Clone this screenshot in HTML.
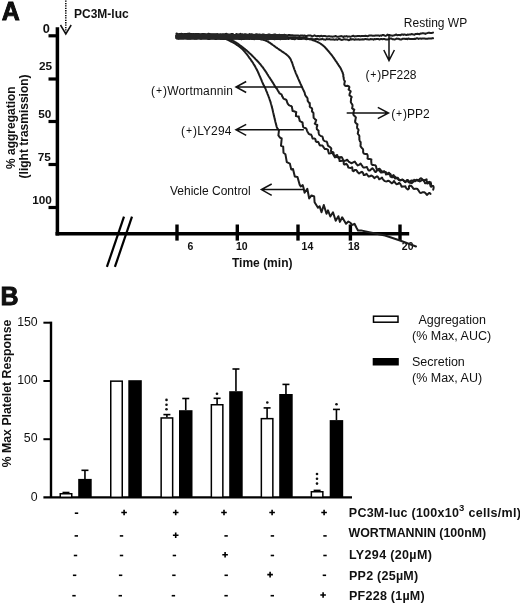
<!DOCTYPE html>
<html><head><meta charset="utf-8"><style>
html,body{margin:0;padding:0;background:#fff;overflow:hidden;}
svg{display:block;filter:grayscale(1);}
text{font-family:"Liberation Sans",sans-serif;fill:#111;}
.b{font-weight:bold;}
.cv path{fill:none;stroke:#1c1c1c;stroke-width:2.0;stroke-linejoin:round;stroke-linecap:round;}
.e{stroke:#000;stroke-width:1.6;}
.ax{stroke:#000;fill:none;}
.ar{stroke:#111;stroke-width:1.5;fill:none;}
</style></head><body>
<svg width="520" height="603" viewBox="0 0 520 603">
<rect width="520" height="603" fill="#fff"/>
<!-- Panel A -->
<text x="1.7" y="19.9" class="b" font-size="25" stroke="#000" stroke-width="0.8">A</text>
<text x="74" y="17.6" class="b" font-size="12">PC3M-luc</text>
<line x1="65.8" y1="0.5" x2="65.8" y2="33" stroke="#000" stroke-width="1.5" stroke-dasharray="1.3 1.1"/>
<path d="M60.5,25 L65.8,34 L71.2,25" class="ar"/>
<!-- y axis -->
<line x1="57.4" y1="27.3" x2="57.4" y2="235.6" class="ax" stroke-width="3.5"/>
<line x1="48.5" y1="35.8" x2="57" y2="35.8" class="ax" stroke-width="3.2"/>
<line x1="48.5" y1="79" x2="57" y2="79" class="ax" stroke-width="3.2"/>
<line x1="48.5" y1="121.5" x2="57" y2="121.5" class="ax" stroke-width="3.2"/>
<line x1="48.5" y1="164.5" x2="57" y2="164.5" class="ax" stroke-width="3.2"/>
<line x1="48.5" y1="207.5" x2="57" y2="207.5" class="ax" stroke-width="3.2"/>
<g class="b" font-size="11.8" text-anchor="end">
<text x="49.8" y="33.1" font-size="12.8">0</text>
<text x="52" y="70">25</text>
<text x="51.3" y="118">50</text>
<text x="50.9" y="161.2">75</text>
<text x="51.9" y="204">100</text>
</g>
<text transform="translate(15.2,127.7) rotate(-90)" class="b" font-size="12" text-anchor="middle">% aggregation</text>
<text transform="translate(28.4,126.4) rotate(-90)" class="b" font-size="12" text-anchor="middle">(light trasmission)</text>
<!-- x axis -->
<line x1="55.5" y1="233.7" x2="409.2" y2="233.7" class="ax" stroke-width="3.4"/>
<line x1="177" y1="224.5" x2="177" y2="240.6" class="ax" stroke-width="3.4"/>
<line x1="237.3" y1="224.5" x2="237.3" y2="240.6" class="ax" stroke-width="3.4"/>
<line x1="298" y1="224.5" x2="298" y2="240.6" class="ax" stroke-width="3.4"/>
<line x1="350.4" y1="224.5" x2="350.4" y2="240.6" class="ax" stroke-width="3.4"/>
<line x1="400" y1="224.5" x2="400" y2="240.6" class="ax" stroke-width="3.4"/>
<line x1="124" y1="216.7" x2="106.9" y2="266.9" stroke="#000" stroke-width="2.2"/>
<line x1="132" y1="216.7" x2="114.9" y2="266.9" stroke="#000" stroke-width="2.2"/>
<g class="b" font-size="10.5">
<text x="187.6" y="249.6">6</text>
<text x="236" y="249.6">10</text>
<text x="301.6" y="249.6">14</text>
<text x="348" y="249.6">18</text>
<text x="401.8" y="249.6">20</text>
</g>
<text x="232" y="267.4" class="b" font-size="12">Time (min)</text>
<!-- traces -->
<g class="cv">
<path d="M176.5,36.0 L177.5,36.0 L178.5,36.0 L179.5,36.1 L180.5,36.1 L181.5,36.1 L182.5,36.1 L183.5,36.1 L184.5,36.2 L185.5,36.2 L186.5,36.2 L187.5,36.2 L188.5,36.2 L189.5,36.3 L190.5,36.3 L191.5,36.3 L192.5,36.3 L193.5,36.3 L194.5,36.4 L195.5,36.4 L196.5,36.4 L197.5,36.4 L198.5,36.5 L199.5,36.5 L200.5,36.5 L201.5,36.5 L202.5,36.6 L203.5,36.6 L204.5,36.6 L205.5,36.6 L206.5,36.6 L207.5,36.7 L208.5,36.7 L209.5,36.7 L210.5,36.7 L211.5,36.8 L212.5,36.8 L213.5,36.9 L214.5,37.0 L215.5,37.0 L216.5,37.1 L217.5,37.2 L218.5,37.2 L219.5,37.3 L220.5,37.4 L221.4,37.6 L222.4,37.8 L223.4,38.1 L224.3,38.4 L225.3,38.8 L226.2,39.1 L227.1,39.5 L228.0,40.0 L228.9,40.4 L229.8,40.8 L230.7,41.3 L231.6,41.8 L232.5,42.2 L233.3,42.7 L234.2,43.2 L235.1,43.7 L235.9,44.2 L236.8,44.8 L237.6,45.3 L238.4,45.9 L239.2,46.5 L240.0,47.1 L240.8,47.8 L241.5,48.4 L242.3,49.1 L243.0,49.8 L243.7,50.5 L244.3,51.3 L245.0,52.0 L245.6,52.8 L246.3,53.6 L246.9,54.4 L247.5,55.2 L248.1,56.0 L248.7,56.8 L249.2,57.6 L249.8,58.4 L250.4,59.2 L251.0,60.0 L251.5,60.9 L252.1,61.7 L252.7,62.5 L253.2,63.3 L253.7,64.2 L254.3,65.1 L254.8,65.9 L255.3,66.8 L255.7,67.7 L256.2,68.5 L256.7,69.4 L257.1,70.3 L257.6,71.2 L258.0,72.1 L258.4,73.0 L258.8,73.9 L259.2,74.9 L259.6,75.8 L260.0,76.7 L260.4,77.6 L260.8,78.5 L261.2,79.5 L261.6,80.4 L261.9,81.3 L262.3,82.2 L262.7,83.1 L263.1,84.1 L263.6,85.0 L264.0,85.9 L264.5,86.7 L264.9,87.6 L265.4,88.5 L265.8,89.5 L266.1,90.4 L266.5,91.3 L266.9,92.2 L267.3,93.2 L267.6,94.1 L268.0,95.0 L268.4,96.0 L268.7,96.9 L269.1,97.8 L269.4,98.8 L269.7,99.7 L270.0,100.7 L270.4,101.6 L270.7,102.6 L270.9,103.5 L271.2,104.5 L271.5,105.4 L271.7,106.4 L272.0,107.4 L272.2,108.4 L272.5,109.3 L272.7,110.3 L272.9,111.3 L273.1,112.2 L273.4,113.2 L273.6,114.2 L273.8,115.2 L274.0,116.1 L274.3,117.1 L274.5,118.1 L274.7,119.1 L275.0,120.0 L275.2,121.0 L275.4,122.0 L275.7,123.0 L275.9,123.9 L276.2,124.9 L276.4,125.9 L276.7,126.8 L277.1,127.8 L277.5,128.6 L278.1,129.4 L279.0,130.0 L279.0,130.0 L278.4,135.4 L280.0,137.6 L281.7,138.5 L281.0,145.7 L283.2,146.6 L283.5,152.8 L285.4,154.2 L286.8,162.2 L289.9,163.6 L291.2,169.4 L293.0,169.0 L294.8,176.6 L297.5,177.0 L299.6,184.6 L300.8,186.5 L302.7,185.0 L303.5,187.7 L304.6,192.7 L307.3,188.8 L309.2,198.5 L311.5,195.4 L314.2,196.5 L314.6,202.3 L318.0,207.7 L319.6,206.2 L321.5,212.3 L323.8,205.0 L326.5,213.8 L328.0,210.4 L330.3,216.5 L333.0,212.3 L335.7,220.8 L338.4,216.2 L339.9,221.9 L342.2,217.3 L346.0,223.8 L348.4,221.5 L350.7,223.0 L351.8,225.0 L354.5,223.8 L356.5,227.7 L358.0,230.4 L361.0,230.4 L368.0,232.0 L385.0,235.5 L400.0,240.5 L416.0,246.5" />
<path d="M176.5,37.5 L177.5,37.5 L178.5,37.5 L179.5,37.5 L180.5,37.6 L181.5,37.6 L182.5,37.6 L183.5,37.6 L184.5,37.6 L185.5,37.6 L186.5,37.7 L187.5,37.7 L188.5,37.7 L189.5,37.7 L190.5,37.7 L191.5,37.7 L192.5,37.7 L193.5,37.8 L194.5,37.8 L195.5,37.8 L196.5,37.8 L197.5,37.8 L198.5,37.9 L199.5,37.9 L200.5,37.9 L201.5,37.9 L202.5,37.9 L203.5,38.0 L204.5,38.0 L205.5,38.0 L206.5,38.0 L207.5,38.1 L208.5,38.1 L209.5,38.1 L210.5,38.2 L211.5,38.2 L212.5,38.3 L213.5,38.3 L214.5,38.3 L215.5,38.4 L216.5,38.4 L217.5,38.5 L218.5,38.6 L219.5,38.6 L220.5,38.7 L221.5,38.8 L222.5,38.8 L223.5,38.9 L224.5,38.9 L225.5,38.8 L226.5,38.8 L227.5,38.9 L228.5,39.0 L229.4,39.3 L230.4,39.6 L231.3,39.9 L232.2,40.4 L233.1,40.9 L234.0,41.3 L234.8,41.9 L235.7,42.4 L236.5,42.9 L237.4,43.4 L238.2,44.0 L239.0,44.6 L239.8,45.2 L240.6,45.8 L241.4,46.4 L242.2,47.0 L243.0,47.6 L243.8,48.2 L244.6,48.8 L245.3,49.5 L246.1,50.1 L246.9,50.8 L247.6,51.4 L248.4,52.1 L249.1,52.8 L249.8,53.4 L250.6,54.1 L251.3,54.8 L252.0,55.5 L252.7,56.2 L253.4,56.9 L254.1,57.6 L254.8,58.3 L255.5,59.1 L256.2,59.8 L256.9,60.5 L257.6,61.2 L258.3,62.0 L258.9,62.7 L259.6,63.5 L260.3,64.2 L260.9,65.0 L261.5,65.8 L262.1,66.6 L262.8,67.3 L263.3,68.2 L263.9,69.0 L264.5,69.8 L265.1,70.6 L265.6,71.4 L266.2,72.3 L266.7,73.1 L267.2,74.0 L267.8,74.8 L268.3,75.7 L268.8,76.5 L269.4,77.3 L269.9,78.2 L270.5,79.0 L271.0,79.9 L271.6,80.7 L272.1,81.5 L272.6,82.4 L273.2,83.2 L273.7,84.1 L274.2,84.9 L274.7,85.8 L275.2,86.7 L275.8,87.5 L276.4,88.3 L277.1,89.0 L277.5,89.9 L278.0,90.8 L278.6,91.6 L279.0,92.5 L279.6,93.4 L280.5,93.9 L281.5,94.4 L281.9,95.4 L282.2,96.4 L282.8,97.2 L283.2,98.2 L283.9,98.9 L285.0,99.3 L286.1,99.7 L286.7,100.5 L286.9,101.7 L287.3,102.6 L287.7,103.6 L288.3,104.4 L288.9,105.1 L289.9,105.6 L291.1,106.0 L291.9,106.7 L292.0,107.8 L292.3,108.9 L292.4,110.0 L292.6,111.1 L294.0,111.3 L295.2,111.7 L296.3,112.1 L296.0,113.6 L296.0,114.8 L295.9,116.1 L297.2,116.4 L298.8,116.5 L298.8,117.7 L299.2,118.6 L299.5,119.6 L299.6,120.7 L300.5,121.4 L301.5,122.0 L302.5,122.5 L302.7,123.5 L302.7,124.7 L303.0,125.7 L303.1,126.9 L303.8,127.6 L305.1,128.0 L306.1,128.4 L306.6,129.3 L306.9,130.3 L307.3,131.3 L307.7,132.2 L308.3,133.0 L308.8,133.9 L309.8,134.4 L311.0,134.6 L311.6,135.5 L312.0,136.5 L312.3,137.6 L312.7,138.6 L314.2,138.5 L315.2,138.9 L315.6,139.9 L315.7,141.2 L316.4,141.9 L317.9,141.8 L318.6,142.5 L319.0,143.5 L319.4,144.6 L320.0,145.5 L321.2,145.6 L322.5,145.6 L323.1,146.5 L323.6,147.4 L324.2,148.2 L324.9,149.0 L326.1,149.1 L327.2,149.3 L328.1,149.8 L328.2,151.2 L328.6,152.4 L328.9,153.6 L330.5,153.2 L332.1,152.7 L332.9,153.4 L333.4,154.3 L333.9,155.3 L334.4,156.4 L335.0,157.4 L336.4,157.0 L337.7,156.9 L339.0,156.9 L339.3,158.2 L339.4,159.7 L339.6,161.1 L340.8,161.1 L342.5,160.6 L343.7,160.7 L343.7,162.3 L343.7,163.8 L344.4,164.6 L346.4,163.8 L347.0,164.6 L347.6,165.4 L348.0,166.4 L348.3,167.6 L349.5,167.8 L350.7,167.9 L352.2,167.3 L352.4,168.8 L352.6,170.6 L353.5,171.2 L355.1,169.9 L356.1,169.9 L356.9,170.8 L357.5,172.0 L358.3,172.8 L359.1,173.4 L360.5,172.5 L361.9,171.8 L362.7,172.5 L363.3,173.6 L363.8,175.1 L364.9,175.0 L366.5,173.8 L367.2,174.7 L367.9,175.7 L368.7,176.6 L369.8,176.3 L371.0,175.6 L371.9,175.8 L372.8,176.4 L373.7,177.4 L374.6,178.1 L375.8,177.0 L377.0,176.3 L377.9,176.9 L378.6,178.1 L379.2,179.3 L380.5,178.7 L382.0,177.6 L382.6,178.7 L383.3,179.7 L384.0,180.5 L384.9,181.1 L385.9,181.4 L387.0,181.2 L388.2,180.8 L389.1,181.0 L390.0,181.7 L390.8,182.4 L391.7,183.3 L392.8,182.6 L394.1,181.0 L394.9,182.3 L395.7,183.3 L396.4,184.3 L397.6,184.1 L399.1,182.9 L400.0,183.5 L400.6,184.6 L401.2,185.6 L401.6,186.8 L403.0,186.5 L404.2,186.4 L405.4,186.2 L405.8,187.5 L406.5,188.5 L407.8,189.4 L409.0,188.4 L408.9,186.8 L409.6,185.5 L411.0,185.9 L411.9,186.6 L412.6,187.4 L413.2,188.4 L414.0,189.0 L415.3,188.8 L416.5,188.8 L417.5,189.0 L418.1,189.9 L418.7,190.8 L419.3,191.8 L420.0,192.8 L421.1,192.9 L422.4,192.3 L423.5,192.2 L424.4,192.3 L425.3,193.0 L426.1,193.9 L426.9,195.0 L428.2,193.8 L429.4,192.9 L430.3,193.5 L430.5,193.9" />
<path d="M176.5,35.0 L177.5,35.0 L178.5,35.0 L179.5,35.0 L180.5,35.1 L181.5,35.1 L182.5,35.1 L183.5,35.1 L184.5,35.1 L185.5,35.1 L186.5,35.2 L187.5,35.2 L188.5,35.2 L189.5,35.2 L190.5,35.2 L191.5,35.2 L192.5,35.2 L193.5,35.3 L194.5,35.3 L195.5,35.3 L196.5,35.3 L197.5,35.3 L198.5,35.3 L199.5,35.3 L200.5,35.4 L201.5,35.4 L202.5,35.4 L203.5,35.4 L204.5,35.4 L205.5,35.4 L206.5,35.5 L207.5,35.5 L208.5,35.5 L209.5,35.5 L210.5,35.5 L211.5,35.5 L212.5,35.6 L213.5,35.6 L214.5,35.6 L215.5,35.6 L216.5,35.6 L217.5,35.7 L218.5,35.7 L219.5,35.7 L220.5,35.7 L221.5,35.8 L222.5,35.8 L223.5,35.8 L224.5,35.8 L225.5,35.9 L226.5,35.9 L227.5,35.9 L228.5,36.0 L229.5,36.0 L230.5,36.0 L231.5,36.1 L232.5,36.1 L233.5,36.2 L234.5,36.2 L235.5,36.2 L236.5,36.3 L237.5,36.4 L238.5,36.4 L239.5,36.5 L240.5,36.5 L241.5,36.6 L242.5,36.7 L243.5,36.8 L244.5,36.8 L245.5,36.9 L246.5,37.0 L247.5,37.1 L248.4,37.2 L249.4,37.3 L250.4,37.4 L251.4,37.6 L252.4,37.7 L253.4,37.8 L254.4,37.9 L255.4,38.1 L256.4,38.2 L257.4,38.4 L258.4,38.5 L259.3,38.7 L260.3,38.9 L261.3,39.2 L262.2,39.4 L263.2,39.8 L264.1,40.1 L265.1,40.4 L266.0,40.7 L267.0,41.1 L267.9,41.6 L268.7,42.1 L269.5,42.7 L270.3,43.2 L271.2,43.8 L272.0,44.4 L272.8,45.0 L273.6,45.5 L274.4,46.1 L275.2,46.7 L276.0,47.3 L276.9,47.9 L277.7,48.5 L278.5,49.0 L279.3,49.6 L280.1,50.2 L281.0,50.7 L281.8,51.3 L282.6,51.8 L283.5,52.4 L284.3,53.0 L285.1,53.5 L285.9,54.1 L286.7,54.8 L287.5,55.4 L288.2,56.1 L288.9,56.8 L289.5,57.6 L290.1,58.4 L290.6,59.2 L291.0,60.1 L291.4,61.1 L291.8,62.0 L292.2,62.9 L292.5,63.9 L292.8,64.8 L293.1,65.8 L293.4,66.7 L293.8,67.7 L294.1,68.6 L294.4,69.5 L294.8,70.5 L295.2,71.4 L295.5,72.3 L295.9,73.3 L296.3,74.2 L296.7,75.1 L297.1,76.0 L297.5,76.9 L297.9,77.8 L298.3,78.8 L298.7,79.7 L299.1,80.6 L299.5,81.5 L299.9,82.4 L300.3,83.3 L300.7,84.2 L301.2,85.2 L301.6,86.1 L302.0,87.0 L302.4,87.9 L302.8,88.8 L303.2,89.7 L303.7,90.6 L304.1,91.5 L304.6,92.4 L304.8,93.4 L305.0,94.4 L305.3,95.3 L305.9,96.2 L306.6,97.0 L307.3,97.8 L307.6,98.7 L307.6,99.8 L307.7,100.9 L308.3,101.7 L308.8,102.6 L309.8,103.2 L309.7,104.3 L309.9,105.3 L309.7,106.5 L310.3,107.3 L311.5,107.9 L312.1,108.8 L312.2,109.8 L311.9,111.0 L312.3,111.9 L313.3,112.6 L313.5,113.6 L313.5,114.6 L313.5,115.7 L313.6,116.7 L313.6,117.7 L314.5,118.5 L315.1,119.4 L316.2,120.1 L315.8,121.3 L315.5,122.4 L314.8,123.6 L315.9,124.3 L317.3,125.0 L317.2,126.1 L316.7,127.2 L316.8,128.3 L316.9,129.3 L317.8,130.1 L318.6,130.8 L318.5,131.9 L318.7,132.9 L318.9,134.0 L319.3,135.0 L320.2,135.5 L321.1,136.1 L322.3,136.4 L322.7,137.4 L323.0,138.5 L323.2,139.6 L323.8,140.4 L324.5,141.1 L325.7,141.4 L326.8,141.8 L327.2,142.8 L327.5,143.8 L327.7,144.9 L328.1,145.9 L329.0,146.4 L329.9,147.0 L330.7,147.7 L331.3,148.5 L331.2,149.8 L330.9,151.0 L331.4,151.8 L333.2,152.2 L333.6,153.0 L333.3,154.3 L333.8,155.3 L334.7,155.8 L335.9,155.7 L337.2,155.0 L337.7,156.6 L338.3,157.9 L339.1,158.4 L340.8,157.0 L341.8,157.3 L342.4,158.3 L342.9,159.5 L343.5,160.6 L344.5,160.9 L345.8,160.5 L347.3,159.7 L347.9,160.7 L348.6,161.4 L349.5,162.2 L350.4,162.6 L351.3,163.2 L352.4,162.8 L353.6,162.2 L354.8,161.6 L355.5,162.7 L356.3,163.8 L357.0,164.7 L357.8,165.4 L359.1,164.8 L360.6,163.6 L361.3,164.6 L362.0,165.5 L362.6,166.6 L363.3,167.4 L364.4,167.4 L365.7,167.2 L366.9,166.9 L367.4,168.1 L368.0,169.4 L368.7,170.6 L369.8,170.6 L371.2,169.3 L372.4,168.2 L373.2,169.1 L374.1,170.1 L374.8,171.6 L375.7,172.0 L377.0,170.5 L378.3,169.2 L379.1,170.5 L379.9,171.3 L380.7,172.5 L381.7,172.4 L383.0,171.4 L384.1,171.1 L384.9,172.1 L385.6,173.3 L386.1,174.5 L387.5,173.7 L389.1,172.7 L389.8,173.7 L390.1,175.2 L390.5,176.7 L391.8,176.4 L393.6,175.1 L394.1,176.3 L394.6,177.5 L395.1,178.6 L396.4,178.3 L397.7,177.7 L398.4,178.6 L399.1,179.7 L399.9,180.6 L401.0,180.2 L402.3,179.6 L403.2,180.1 L404.0,181.0 L404.8,181.7 L406.0,181.0 L407.1,180.1 L407.9,181.4 L409.0,182.4 L410.1,182.9 L410.9,180.8 L411.8,180.5 L412.9,180.8 L413.9,181.0 L415.0,181.3 L415.8,180.2 L416.8,179.8 L417.9,180.2 L418.9,180.8 L419.8,181.4 L420.8,180.8 L422.0,180.0 L423.0,180.1 L423.9,180.9 L424.6,182.0 L425.0,183.3 L426.1,183.2 L427.7,182.4 L429.2,181.9 L429.5,183.3 L430.1,184.3 L430.4,185.5 L430.8,186.6 L431.5,186.7" />
<path d="M176.5,36.0 L177.5,36.0 L178.5,36.0 L179.5,36.0 L180.5,36.0 L181.5,36.0 L182.5,36.0 L183.5,36.0 L184.5,36.0 L185.5,36.1 L186.5,36.1 L187.5,36.1 L188.5,36.1 L189.5,36.1 L190.5,36.1 L191.5,36.1 L192.5,36.1 L193.5,36.1 L194.5,36.1 L195.5,36.1 L196.5,36.1 L197.5,36.1 L198.5,36.1 L199.5,36.1 L200.5,36.1 L201.5,36.1 L202.5,36.1 L203.5,36.2 L204.5,36.2 L205.5,36.2 L206.5,36.2 L207.5,36.2 L208.5,36.2 L209.5,36.2 L210.5,36.2 L211.5,36.2 L212.5,36.2 L213.5,36.2 L214.5,36.2 L215.5,36.2 L216.5,36.2 L217.5,36.2 L218.5,36.2 L219.5,36.2 L220.5,36.3 L221.5,36.3 L222.5,36.3 L223.5,36.3 L224.5,36.3 L225.5,36.3 L226.5,36.3 L227.5,36.3 L228.5,36.3 L229.5,36.3 L230.5,36.3 L231.5,36.3 L232.5,36.3 L233.5,36.3 L234.5,36.4 L235.5,36.4 L236.5,36.4 L237.5,36.4 L238.5,36.4 L239.5,36.4 L240.5,36.4 L241.5,36.4 L242.5,36.4 L243.5,36.4 L244.5,36.4 L245.5,36.5 L246.5,36.5 L247.5,36.5 L248.5,36.5 L249.5,36.5 L250.5,36.5 L251.5,36.5 L252.5,36.5 L253.5,36.5 L254.5,36.6 L255.5,36.6 L256.5,36.6 L257.5,36.6 L258.5,36.6 L259.5,36.6 L260.5,36.6 L261.5,36.7 L262.5,36.7 L263.5,36.7 L264.5,36.7 L265.5,36.7 L266.5,36.7 L267.5,36.7 L268.5,36.8 L269.5,36.8 L270.5,36.8 L271.5,36.8 L272.5,36.8 L273.5,36.8 L274.5,36.9 L275.5,36.9 L276.5,36.9 L277.5,36.9 L278.5,36.9 L279.5,37.0 L280.5,37.0 L281.5,37.0 L282.5,37.0 L283.5,37.0 L284.5,37.1 L285.5,37.1 L286.5,37.1 L287.5,37.1 L288.5,37.2 L289.5,37.2 L290.5,37.2 L291.5,37.2 L292.5,37.3 L293.5,37.3 L294.5,37.3 L295.5,37.3 L296.5,37.4 L297.5,37.4 L298.5,37.4 L299.5,37.5 L300.5,37.5 L301.5,37.6 L302.5,37.6 L303.5,37.6 L304.5,37.7 L305.5,37.8 L306.5,37.9 L307.4,38.4 L308.3,38.7 L309.2,39.0 L310.2,39.3 L311.1,39.6 L312.1,39.9 L313.0,40.3 L314.0,40.6 L314.9,40.9 L315.9,41.3 L316.8,41.7 L317.7,42.1 L318.6,42.5 L319.5,43.0 L320.3,43.5 L321.2,44.1 L322.0,44.7 L322.8,45.3 L323.5,45.9 L324.3,46.6 L325.0,47.3 L325.7,48.0 L326.3,48.8 L327.0,49.5 L327.7,50.3 L328.3,51.0 L329.0,51.8 L329.6,52.5 L330.2,53.3 L330.9,54.1 L331.5,54.9 L332.1,55.7 L332.7,56.5 L333.3,57.3 L333.9,58.1 L334.4,58.9 L335.0,59.8 L335.5,60.6 L336.1,61.4 L336.7,62.2 L337.2,63.1 L337.8,63.9 L338.3,64.7 L338.9,65.6 L339.4,66.4 L340.0,67.2 L340.5,68.1 L341.0,69.0 L341.4,69.9 L341.8,70.8 L342.2,71.7 L342.7,72.6 L342.8,73.6 L343.3,74.5 L343.3,75.5 L343.3,76.6 L343.7,77.5 L343.7,78.5 L343.9,79.5 L344.3,80.5 L344.9,81.4 L344.6,82.4 L344.4,83.5 L344.3,84.7 L345.1,85.7 L346.2,86.0 L347.5,85.8 L348.7,86.1 L349.4,87.1 L349.0,88.4 L348.6,89.5 L349.5,90.3 L350.7,91.2 L350.4,92.2 L349.8,93.3 L349.5,94.4 L349.5,95.4 L350.7,96.2 L351.7,97.1 L351.1,98.2 L351.0,99.2 L351.0,100.2 L350.8,101.3 L350.9,102.3 L351.4,103.2 L352.0,104.1 L352.5,105.0 L352.5,106.1 L352.4,107.1 L352.1,108.2 L353.0,109.0 L354.3,109.7 L353.8,110.9 L353.7,111.9 L353.6,113.0 L353.3,114.1 L353.6,115.0 L354.4,115.9 L355.4,116.7 L355.9,117.6 L355.6,118.7 L355.4,119.7 L355.3,120.8 L355.1,121.9 L355.6,122.8 L356.4,123.6 L357.5,124.4 L357.3,125.4 L357.1,126.5 L357.1,127.6 L357.3,128.5 L358.3,129.3 L358.5,130.3 L358.1,131.4 L358.0,132.5 L357.7,133.5 L358.3,134.4 L359.1,135.3 L359.4,136.3 L359.3,137.3 L359.4,138.3 L359.3,139.3 L359.6,140.3 L360.0,141.3 L360.7,142.1 L360.6,143.2 L360.7,144.2 L360.5,145.3 L360.6,146.3 L361.2,147.1 L361.8,148.0 L362.7,148.7 L363.1,149.6 L363.2,150.6 L363.1,151.9 L363.4,153.0 L364.2,153.7 L365.5,153.9 L367.0,153.9 L367.5,154.9 L367.7,156.0 L367.7,157.2 L367.5,158.5 L368.7,159.0 L370.2,159.1 L371.4,159.5 L371.2,160.8 L371.3,162.0 L371.4,163.2 L371.6,164.3 L372.5,164.9 L373.8,165.1 L375.2,165.2 L375.9,165.9 L376.2,167.0 L376.4,168.3 L376.8,169.4 L378.1,169.3 L379.7,168.8 L380.3,169.7 L381.0,170.4 L381.6,171.4 L382.4,172.2 L383.4,172.2 L384.7,171.9 L385.7,172.0 L386.4,172.8 L387.1,173.8 L388.0,174.3 L389.3,173.9 L390.4,173.9 L390.9,175.0 L391.5,176.2 L392.0,177.3 L393.2,177.2 L394.8,176.4 L395.5,177.1 L396.3,177.7 L397.1,178.3 L397.9,179.0 L398.7,179.9 L399.7,180.0 L400.8,179.9 L401.9,179.7 L402.9,179.7 L403.7,180.5 L404.6,181.3 L405.4,182.2 L406.7,181.2 L407.8,180.0 L408.7,180.9 L409.6,181.9 L410.6,182.3 L411.7,183.2 L412.7,182.3 L413.5,181.3 L414.1,179.8 L415.3,180.5 L416.4,180.5 L417.5,180.5 L418.5,180.7 L419.2,179.6 L420.1,178.7 L421.1,178.3 L422.1,179.1 L423.0,179.9 L423.7,180.6 L425.0,180.0 L426.6,179.4 L426.8,180.9 L427.1,182.3 L427.5,183.6 L429.2,182.7 L430.7,182.3 L430.9,183.8 L431.2,184.9 L431.6,185.7 L433.2,186.0 L433.6,186.9 L433.6,188.0 L433.3,189.2 L433.2,189.7" />
<path d="M176.5,33.5 L177.5,34.0 L178.5,34.3 L179.5,33.9 L180.5,33.9 L181.5,33.8 L182.5,34.1 L183.5,34.2 L184.5,34.0 L185.5,33.9 L186.5,34.4 L187.5,33.8 L188.5,33.8 L189.5,33.6 L190.5,34.0 L191.5,34.0 L192.5,34.5 L193.5,34.0 L194.5,34.4 L195.5,33.9 L196.5,34.0 L197.5,33.9 L198.5,33.9 L199.5,34.2 L200.5,34.6 L201.5,34.2 L202.5,33.9 L203.5,33.9 L204.5,34.1 L205.5,34.2 L206.5,34.4 L207.5,34.1 L208.5,33.7 L209.5,33.9 L210.5,34.3 L211.5,34.2 L212.5,34.3 L213.5,34.2 L214.5,34.2 L215.5,34.3 L216.5,34.3 L217.5,34.1 L218.5,34.4 L219.5,34.4 L220.5,34.2 L221.5,34.4 L222.5,34.3 L223.5,34.2 L224.5,34.6 L225.5,33.9 L226.5,33.8 L227.5,34.3 L228.5,34.5 L229.5,34.5 L230.5,34.6 L231.5,33.9 L232.5,33.9 L233.5,34.6 L234.5,34.9 L235.5,34.6 L236.5,34.0 L237.5,34.4 L238.5,34.5 L239.5,34.3 L240.5,33.8 L241.5,34.7 L242.5,34.2 L243.5,35.0 L244.5,34.2 L245.5,34.2 L246.5,34.6 L247.5,34.7 L248.5,34.7 L249.5,34.0 L250.5,34.7 L251.5,34.2 L252.5,34.4 L253.5,34.9 L254.5,35.0 L255.5,34.4 L256.5,34.2 L257.5,34.4 L258.5,34.7 L259.5,34.4 L260.5,34.8 L261.5,35.0 L262.5,34.4 L263.5,34.4 L264.5,34.7 L265.5,34.9 L266.5,35.2 L267.5,34.9 L268.5,34.5 L269.5,34.5 L270.5,34.9 L271.5,35.0 L272.5,34.9 L273.5,34.7 L274.5,34.5 L275.5,34.6 L276.5,35.3 L277.5,35.2 L278.5,35.0 L279.5,34.8 L280.5,35.1 L281.5,35.1 L282.5,35.6 L283.5,34.9 L284.5,34.8 L285.5,35.2 L286.5,35.4 L287.5,35.5 L288.5,34.9 L289.5,34.9 L290.5,35.2 L291.5,35.3 L292.5,35.2 L293.5,35.5 L294.5,35.6 L295.5,35.5 L296.5,35.5 L297.5,35.4 L298.5,35.6 L299.5,36.1 L300.5,35.4 L301.5,35.5 L302.5,35.5 L303.5,35.9 L304.5,35.5 L305.5,36.0 L306.5,36.1 L307.5,35.7 L308.5,35.4 L309.5,35.4 L310.5,35.5 L311.5,35.9 L312.5,36.5 L313.5,35.8 L314.5,35.3 L315.5,35.8 L316.5,36.3 L317.5,36.0 L318.5,35.9 L319.5,36.5 L320.5,36.0 L321.5,35.8 L322.5,36.3 L323.5,36.0 L324.5,36.1 L325.5,36.1 L326.5,36.5 L327.5,36.5 L328.5,36.3 L329.5,36.3 L330.5,36.4 L331.5,36.5 L332.5,36.7 L333.5,36.4 L334.5,36.4 L335.5,36.0 L336.5,36.5 L337.5,36.8 L338.5,36.8 L339.5,36.4 L340.5,36.2 L341.5,36.1 L342.5,36.4 L343.5,37.1 L344.5,36.2 L345.5,36.4 L346.5,36.1 L347.5,36.7 L348.5,36.4 L349.5,36.5 L350.5,36.7 L351.5,36.4 L352.5,36.0 L353.5,35.7 L354.5,36.5 L355.5,36.3 L356.5,36.2 L357.5,36.0 L358.5,36.1 L359.5,36.1 L360.5,36.2 L361.5,36.0 L362.5,35.9 L363.5,36.1 L364.5,36.0 L365.5,35.8 L366.5,35.9 L367.5,36.3 L368.5,35.8 L369.5,35.5 L370.5,35.5 L371.5,35.6 L372.5,35.8 L373.5,35.7 L374.5,35.8 L375.5,35.5 L376.5,35.4 L377.5,35.6 L378.5,35.4 L379.5,36.0 L380.5,35.4 L381.5,35.7 L382.4,34.9 L383.4,35.0 L384.5,35.5 L385.5,35.9 L386.5,35.6 L387.4,34.6 L388.4,35.0 L389.4,34.9 L390.5,35.5 L391.5,35.4 L392.5,35.7 L393.5,35.4 L394.5,35.3 L395.4,34.8 L396.4,34.6 L397.5,35.3 L398.4,34.9 L399.5,35.0 L400.5,35.3 L401.4,34.6 L402.4,34.5 L403.5,34.9 L404.4,34.4 L405.5,34.8 L406.5,35.1 L407.4,34.5 L408.4,34.7 L409.4,34.4 L410.4,34.5 L411.4,34.1 L412.4,34.3 L413.5,34.6 L414.5,34.7 L415.4,33.9 L416.4,33.9 L417.4,33.8 L418.4,34.0 L419.5,34.2 L420.4,33.6 L421.4,33.6 L422.4,33.3 L423.4,33.3 L424.4,33.4 L425.4,33.9 L426.4,33.4 L427.4,33.1 L428.4,32.8 L429.4,32.7 L430.4,33.1 L431.4,33.1 L432.4,32.8 L433.0,32.6" />
<path d="M176.5,38.2 L177.5,38.2 L178.5,38.8 L179.5,38.5 L180.5,38.5 L181.5,38.6 L182.5,38.5 L183.5,38.5 L184.5,38.1 L185.5,38.3 L186.5,38.6 L187.5,38.7 L188.5,38.8 L189.5,38.8 L190.5,38.7 L191.5,38.5 L192.5,38.5 L193.5,38.2 L194.5,38.8 L195.5,38.5 L196.5,38.8 L197.5,38.4 L198.5,38.3 L199.5,38.3 L200.5,38.7 L201.5,38.8 L202.5,38.4 L203.5,38.4 L204.5,38.3 L205.5,38.5 L206.5,38.4 L207.5,38.7 L208.5,39.0 L209.5,39.0 L210.5,38.5 L211.5,38.6 L212.5,38.5 L213.5,38.2 L214.5,38.5 L215.5,39.0 L216.5,38.9 L217.5,38.4 L218.5,38.5 L219.5,38.4 L220.5,38.8 L221.5,38.8 L222.5,38.9 L223.5,38.6 L224.5,38.2 L225.5,38.3 L226.5,39.0 L227.5,38.9 L228.5,38.6 L229.5,38.7 L230.5,38.9 L231.5,38.6 L232.5,39.2 L233.5,38.6 L234.5,38.6 L235.5,38.5 L236.5,38.6 L237.5,38.4 L238.5,38.8 L239.5,39.1 L240.5,38.8 L241.5,39.2 L242.5,38.9 L243.5,38.8 L244.5,38.9 L245.5,38.6 L246.5,38.7 L247.5,38.7 L248.5,38.8 L249.5,39.0 L250.5,38.3 L251.5,38.9 L252.5,38.9 L253.5,39.0 L254.5,39.2 L255.5,38.7 L256.5,38.7 L257.5,38.6 L258.5,38.8 L259.5,38.9 L260.5,39.2 L261.5,39.2 L262.5,38.9 L263.5,38.7 L264.5,38.4 L265.5,38.6 L266.5,38.9 L267.5,38.8 L268.5,39.4 L269.5,38.6 L270.5,38.8 L271.5,38.6 L272.5,38.7 L273.5,39.1 L274.5,39.2 L275.5,39.0 L276.5,39.0 L277.5,38.9 L278.5,38.8 L279.5,39.1 L280.5,39.2 L281.5,38.8 L282.5,38.3 L283.5,38.8 L284.5,38.8 L285.5,39.1 L286.5,38.8 L287.5,38.7 L288.5,39.0 L289.5,38.6 L290.5,38.6 L291.5,38.9 L292.5,38.9 L293.5,38.8 L294.5,39.2 L295.5,39.0 L296.5,38.4 L297.5,38.8 L298.5,39.0 L299.5,39.0 L300.5,38.8 L301.5,39.1 L302.5,38.8 L303.5,38.6 L304.5,38.8 L305.5,39.0 L306.5,39.3 L307.5,38.8 L308.5,39.1 L309.5,39.2 L310.5,38.8 L311.5,38.5 L312.5,39.2 L313.5,39.3 L314.5,39.4 L315.5,39.0 L316.5,39.0 L317.5,38.7 L318.5,39.4 L319.5,39.5 L320.5,39.3 L321.5,39.2 L322.5,38.8 L323.5,39.5 L324.5,39.6 L325.5,39.7 L326.5,39.0 L327.5,39.3 L328.5,39.2 L329.5,39.1 L330.5,39.6 L331.5,39.6 L332.5,39.5 L333.5,39.3 L334.5,39.8 L335.5,39.5 L336.5,39.3 L337.5,39.8 L338.5,39.0 L339.5,39.0 L340.5,39.5 L341.5,39.9 L342.5,39.8 L343.5,39.3 L344.5,39.3 L345.5,39.5 L346.5,39.4 L347.5,39.6 L348.5,40.2 L349.5,40.0 L350.5,39.0 L351.5,39.5 L352.5,39.2 L353.5,39.3 L354.5,39.8 L355.5,39.2 L356.5,39.5 L357.5,39.5 L358.5,39.2 L359.5,39.7 L360.5,39.5 L361.5,39.5 L362.5,39.2 L363.5,39.5 L364.5,39.2 L365.5,38.9 L366.5,39.3 L367.5,39.2 L368.5,39.6 L369.5,39.6 L370.5,39.0 L371.5,39.3 L372.5,39.2 L373.5,39.7 L374.5,39.0 L375.5,39.2 L376.5,39.0 L377.5,38.9 L378.5,39.1 L379.5,39.5 L380.5,39.1 L381.5,39.0 L382.5,39.2 L383.5,39.1 L384.5,39.0 L385.5,39.4 L386.5,39.4 L387.5,39.4 L388.5,39.3 L389.5,38.8 L390.5,38.6 L391.5,38.6 L392.5,39.3 L393.5,39.2 L394.5,39.4 L395.5,39.3 L396.5,38.6 L397.5,38.7 L398.5,38.7 L399.5,39.3 L400.5,39.5 L401.5,39.4 L402.5,38.8 L403.5,38.7 L404.5,38.7 L405.5,39.0 L406.5,38.7 L407.5,39.2 L408.5,38.4 L409.5,38.9 L410.5,39.0 L411.5,39.1 L412.5,38.9 L413.5,39.1 L414.5,38.7 L415.5,38.9 L416.5,38.3 L417.5,38.2 L418.5,38.9 L419.5,38.6 L420.5,38.5 L421.5,38.8 L422.5,38.4 L423.5,38.4 L424.5,38.5 L425.5,38.7 L426.5,38.7 L427.5,38.8 L428.5,38.6 L429.5,38.6 L430.5,38.4 L431.5,38.5 L432.5,38.1 L433.0,38.3" />
</g>
<path d="M178,36.6 L200,36.4 L230,36.8 L285,37" stroke="#262626" stroke-width="5.8" fill="none" stroke-linecap="round"/>
<!-- annotation arrows -->
<g class="ar">
<path d="M389,35.6 V60.4 M383.8,50 L389,60.6 L394.4,50"/>
<path d="M302.3,87 H236 M246.2,81.5 L236,87 L246.2,92.5"/>
<path d="M303.8,129.8 H236 M246.2,124.4 L236,129.8 L246.2,135.3"/>
<path d="M346.7,113 H388.5 M377.8,107.3 L388.5,113 L377.8,118.7"/>
<path d="M304.2,189.6 H261.4 M271.7,184 L261.4,189.6 L271.7,195.3"/>
</g>
<g font-size="12">
<text x="403.8" y="26.6">Resting WP</text>
<text x="365.4" y="78.6">(<tspan dx="0.8" dy="-1" font-size="10.5">+</tspan><tspan dx="0.8" dy="1">)PF228</tspan></text>
<text x="151" y="95" letter-spacing="0.15">(<tspan dx="0.8" dy="-1" font-size="10.5">+</tspan><tspan dx="0.8" dy="1">)Wortmannin</tspan></text>
<text x="181.1" y="134.5" letter-spacing="0.1">(<tspan dx="0.8" dy="-1" font-size="10.5">+</tspan><tspan dx="0.8" dy="1">)LY294</tspan></text>
<text x="391.3" y="118.3">(<tspan dx="0.8" dy="-1" font-size="10.5">+</tspan><tspan dx="0.8" dy="1">)PP2</tspan></text>
<text x="170" y="194.5">Vehicle Control</text>
</g>
<!-- Panel B -->
<text x="0.6" y="304.5" class="b" font-size="25" stroke="#000" stroke-width="0.8">B</text>
<line x1="51" y1="321.6" x2="51" y2="498" class="ax" stroke-width="2.4"/>
<line x1="43.4" y1="322.7" x2="50" y2="322.7" class="ax" stroke-width="2"/>
<line x1="43.4" y1="381" x2="50" y2="381" class="ax" stroke-width="2"/>
<line x1="43.4" y1="439.2" x2="50" y2="439.2" class="ax" stroke-width="2"/>
<line x1="43.4" y1="497.3" x2="352" y2="497.3" class="ax" stroke-width="2.2"/>
<g font-size="12.3" text-anchor="end">
<text x="37.7" y="325.8">150</text>
<text x="37.7" y="384">100</text>
<text x="37.5" y="442.4">50</text>
<text x="37.5" y="500.6">0</text>
</g>
<text transform="translate(11,393.5) rotate(-90)" class="b" font-size="12.3" text-anchor="middle">% Max Platelet Response</text>
<line x1="66.0" y1="493" x2="66.0" y2="492.5" class="e"/>
<line x1="62.5" y1="492.5" x2="69.5" y2="492.5" class="e"/>
<rect x="60.25" y="493.75" width="11.5" height="3.5500000000000114" fill="#fff" stroke="#000" stroke-width="1.5"/>
<line x1="84.95" y1="478.9" x2="84.95" y2="470.3" class="e"/>
<line x1="81.45" y1="470.3" x2="88.45" y2="470.3" class="e"/>
<rect x="78.2" y="478.9" width="13.5" height="18.400000000000034" fill="#000"/>
<rect x="110.75" y="381.15" width="11.5" height="116.15000000000003" fill="#fff" stroke="#000" stroke-width="1.5"/>
<rect x="128.3" y="380.2" width="13.5" height="117.10000000000002" fill="#000"/>
<line x1="166.9" y1="417.2" x2="166.9" y2="414.6" class="e"/>
<line x1="163.4" y1="414.6" x2="170.4" y2="414.6" class="e"/>
<rect x="161.15" y="417.95" width="11.5" height="79.35000000000002" fill="#fff" stroke="#000" stroke-width="1.5"/>
<line x1="185.75" y1="410.2" x2="185.75" y2="398.5" class="e"/>
<line x1="182.25" y1="398.5" x2="189.25" y2="398.5" class="e"/>
<rect x="179" y="410.2" width="13.5" height="87.10000000000002" fill="#000"/>
<line x1="217.1" y1="404" x2="217.1" y2="398.3" class="e"/>
<line x1="213.6" y1="398.3" x2="220.6" y2="398.3" class="e"/>
<rect x="211.35" y="404.75" width="11.5" height="92.55000000000001" fill="#fff" stroke="#000" stroke-width="1.5"/>
<line x1="235.95" y1="391.2" x2="235.95" y2="369" class="e"/>
<line x1="232.45" y1="369" x2="239.45" y2="369" class="e"/>
<rect x="229.2" y="391.2" width="13.5" height="106.10000000000002" fill="#000"/>
<line x1="267.1" y1="417.9" x2="267.1" y2="407.9" class="e"/>
<line x1="263.6" y1="407.9" x2="270.6" y2="407.9" class="e"/>
<rect x="261.35" y="418.65" width="11.5" height="78.65000000000003" fill="#fff" stroke="#000" stroke-width="1.5"/>
<line x1="285.95" y1="394" x2="285.95" y2="384.4" class="e"/>
<line x1="282.45" y1="384.4" x2="289.45" y2="384.4" class="e"/>
<rect x="279.2" y="394" width="13.5" height="103.30000000000001" fill="#000"/>
<line x1="317.1" y1="491" x2="317.1" y2="490.4" class="e"/>
<line x1="313.6" y1="490.4" x2="320.6" y2="490.4" class="e"/>
<rect x="311.35" y="491.75" width="11.5" height="5.550000000000011" fill="#fff" stroke="#000" stroke-width="1.5"/>
<line x1="336.45" y1="420.1" x2="336.45" y2="409.4" class="e"/>
<line x1="332.95" y1="409.4" x2="339.95" y2="409.4" class="e"/>
<rect x="329.7" y="420.1" width="13.5" height="77.19999999999999" fill="#000"/>
<circle cx="166.5" cy="399.9" r="1.3" fill="#111"/>
<circle cx="166.5" cy="404.7" r="1.3" fill="#111"/>
<circle cx="166.5" cy="409.2" r="1.3" fill="#111"/>
<circle cx="217" cy="393.8" r="1.3" fill="#111"/>
<circle cx="267.3" cy="402.5" r="1.3" fill="#111"/>
<circle cx="317" cy="474" r="1.3" fill="#111"/>
<circle cx="317" cy="478.8" r="1.3" fill="#111"/>
<circle cx="317" cy="483.6" r="1.3" fill="#111"/>
<circle cx="336.5" cy="404.3" r="1.3" fill="#111"/>
<!-- legend -->
<rect x="373.5" y="316.2" width="24.5" height="6" fill="#fff" stroke="#000" stroke-width="1.5"/>
<rect x="372.7" y="358" width="26.1" height="7.5" fill="#000"/>
<g font-size="12.5">
<text x="418.5" y="324">Aggregation</text>
<text x="412" y="339.5">(% Max, AUC)</text>
<text x="412" y="366.2">Secretion</text>
<text x="412" y="382">(% Max, AU)</text>
</g>
<path d="M74.8,513.2 H78.2" stroke="#000" stroke-width="1.6" fill="none"/>
<path d="M121.3,512.5 H126.89999999999999 M124.1,509.7 V515.3" stroke="#000" stroke-width="1.6" fill="none"/>
<path d="M172.89999999999998,512.5 H178.5 M175.7,509.7 V515.3" stroke="#000" stroke-width="1.6" fill="none"/>
<path d="M221.2,512.5 H226.8 M224.0,509.7 V515.3" stroke="#000" stroke-width="1.6" fill="none"/>
<path d="M269.3,512.5 H274.90000000000003 M272.1,509.7 V515.3" stroke="#000" stroke-width="1.6" fill="none"/>
<path d="M321.3,512.5 H326.90000000000003 M324.1,509.7 V515.3" stroke="#000" stroke-width="1.6" fill="none"/>
<path d="M74.6,535.9000000000001 H78.0" stroke="#000" stroke-width="1.6" fill="none"/>
<path d="M119.8,535.9000000000001 H123.2" stroke="#000" stroke-width="1.6" fill="none"/>
<path d="M172.89999999999998,535.2 H178.5 M175.7,532.4000000000001 V538.0" stroke="#000" stroke-width="1.6" fill="none"/>
<path d="M224.4,535.9000000000001 H227.79999999999998" stroke="#000" stroke-width="1.6" fill="none"/>
<path d="M270.7,535.9000000000001 H274.09999999999997" stroke="#000" stroke-width="1.6" fill="none"/>
<path d="M323.3,535.9000000000001 H326.7" stroke="#000" stroke-width="1.6" fill="none"/>
<path d="M73.8,555.5 H77.2" stroke="#000" stroke-width="1.6" fill="none"/>
<path d="M119.8,555.5 H123.2" stroke="#000" stroke-width="1.6" fill="none"/>
<path d="M172.70000000000002,555.5 H176.1" stroke="#000" stroke-width="1.6" fill="none"/>
<path d="M222.29999999999998,554.8 H227.9 M225.1,552.0 V557.5999999999999" stroke="#000" stroke-width="1.6" fill="none"/>
<path d="M270.7,555.5 H274.09999999999997" stroke="#000" stroke-width="1.6" fill="none"/>
<path d="M323.3,555.5 H326.7" stroke="#000" stroke-width="1.6" fill="none"/>
<path d="M72.89999999999999,575.3000000000001 H76.3" stroke="#000" stroke-width="1.6" fill="none"/>
<path d="M118.89999999999999,575.3000000000001 H122.3" stroke="#000" stroke-width="1.6" fill="none"/>
<path d="M172.20000000000002,575.3000000000001 H175.6" stroke="#000" stroke-width="1.6" fill="none"/>
<path d="M224.5,575.3000000000001 H227.89999999999998" stroke="#000" stroke-width="1.6" fill="none"/>
<path d="M267.3,574.6 H272.90000000000003 M270.1,571.8000000000001 V577.4" stroke="#000" stroke-width="1.6" fill="none"/>
<path d="M322.7,575.3000000000001 H326.09999999999997" stroke="#000" stroke-width="1.6" fill="none"/>
<path d="M72.3,595.7 H75.7" stroke="#000" stroke-width="1.6" fill="none"/>
<path d="M118.6,595.7 H122.0" stroke="#000" stroke-width="1.6" fill="none"/>
<path d="M171.70000000000002,595.7 H175.1" stroke="#000" stroke-width="1.6" fill="none"/>
<path d="M224.4,595.7 H227.79999999999998" stroke="#000" stroke-width="1.6" fill="none"/>
<path d="M270.6,595.7 H274.0" stroke="#000" stroke-width="1.6" fill="none"/>
<path d="M320.3,595 H325.90000000000003 M323.1,592.2 V597.8" stroke="#000" stroke-width="1.6" fill="none"/>
<g class="b" font-size="12.5">
<text x="348.8" y="517.2" letter-spacing="0.25">PC3M-luc (100x10<tspan font-size="9.5" dy="-6">3</tspan><tspan dy="6" letter-spacing="0.3"> cells/ml)</tspan></text>
<text x="348.5" y="537.3" font-size="12.4">WORTMANNIN (100nM)</text>
<text x="349" y="558.9" letter-spacing="0.35">LY294 (20µM)</text>
<text x="349" y="579.7" letter-spacing="0.25">PP2 (25µM)</text>
<text x="349" y="599.5" letter-spacing="0.25">PF228 (1µM)</text>
</g>
</svg>
</body></html>
